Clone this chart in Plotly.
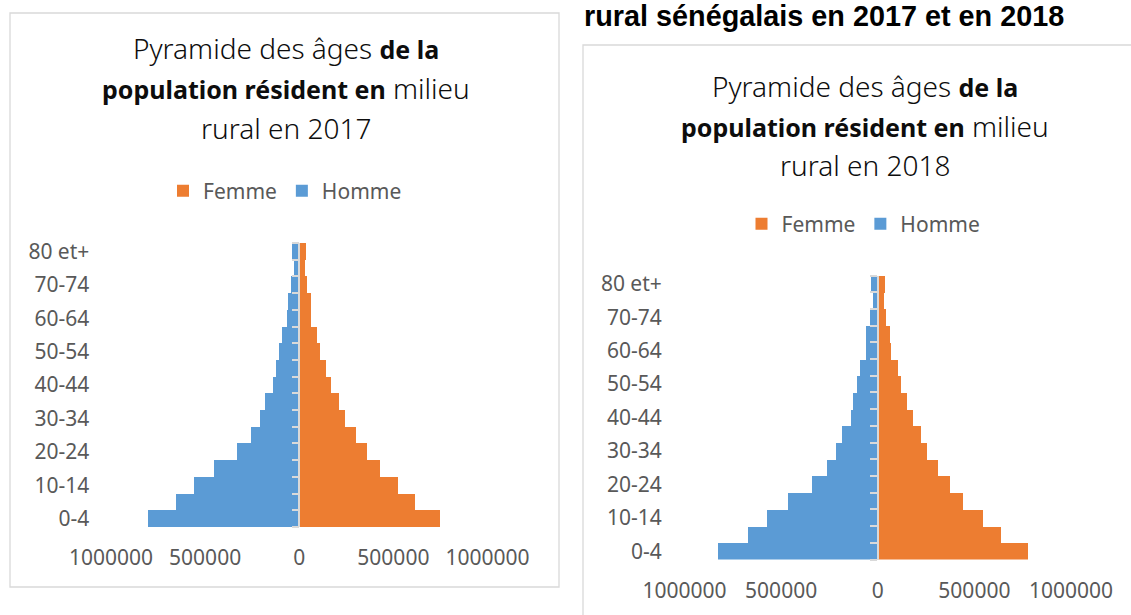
import plotly.graph_objects as go

W, H = 1131, 615

ages = ["0-4", "5-9", "10-14", "15-19", "20-24", "25-29", "30-34", "35-39", "40-44",
        "45-49", "50-54", "55-59", "60-64", "65-69", "70-74", "75-79", "80 et+"]
age_labels = [a if i % 2 == 0 else "" for i, a in enumerate(ages)]

femme_2017 = [750000, 617000, 525000, 427000, 360000, 300000, 245000, 213000, 170000,
              142000, 112000, 96000, 64000, 60000, 39000, 30000, 34000]
homme_2017 = [805000, 656000, 560000, 452000, 332000, 257000, 211000, 183000, 140000,
              126000, 106000, 92000, 66000, 62000, 43000, 28000, 36000]
femme_2018 = [774000, 636000, 541000, 441000, 372000, 307000, 253000, 219000, 178000,
              147000, 116000, 100000, 67000, 62000, 41000, 31000, 36000]
homme_2018 = [829000, 674000, 576000, 466000, 341000, 264000, 217000, 186000, 143000,
              129000, 110000, 93000, 66000, 62000, 41000, 29000, 35000]

x_tickvals = [-1000000, -500000, 0, 500000, 1000000]
x_ticktext = ["1000000", "500000", "0", "500000", "1000000"]

heading = "rural sénégalais en 2017 et en 2018"
B0 = '<b><span style="font-size:25px">'
B1 = '</span></b>'
title_2017 = ["Pyramide des âges " + B0 + "de la" + B1,
              B0 + "population résident en" + B1 + " milieu",
              "rural en 2017"]
title_2018 = ["Pyramide des âges " + B0 + "de la" + B1,
              B0 + "population résident en" + B1 + " milieu",
              "rural en 2018"]

ORANGE = "#ED7D31"
BLUE = "#5B9BD5"
GRID = "#D9D9D9"
TXT = "#595959"
FONT = "Noto Sans"


def px(x):
    return x / W


def py(y):
    return 1 - y / H


fig = go.Figure()

fig.add_trace(go.Bar(y=ages, x=femme_2017, orientation="h", name="Femme",
                     marker=dict(color=ORANGE, line=dict(width=0)),
                     xaxis="x", yaxis="y", legend="legend"))
fig.add_trace(go.Bar(y=ages, x=[-v for v in homme_2017], orientation="h", name="Homme",
                     marker=dict(color=BLUE, line=dict(width=0)),
                     xaxis="x", yaxis="y", legend="legend"))
fig.add_trace(go.Bar(y=ages, x=femme_2018, orientation="h", name="Femme",
                     marker=dict(color=ORANGE, line=dict(width=0)),
                     xaxis="x2", yaxis="y2", legend="legend2"))
fig.add_trace(go.Bar(y=ages, x=[-v for v in homme_2018], orientation="h", name="Homme",
                     marker=dict(color=BLUE, line=dict(width=0)),
                     xaxis="x2", yaxis="y2", legend="legend2"))

xcommon = dict(range=[-1000000, 1000000], tickmode="array", tickvals=x_tickvals,
               ticktext=x_ticktext, showline=False, showgrid=False, zeroline=False,
               ticks="", tickfont=dict(family=FONT, size=21, color=TXT),
               ticklabelstandoff=16, fixedrange=True, automargin=False)
ycommon = dict(type="category", categoryorder="array", categoryarray=ages,
               range=[-0.5, 16.5], tickmode="array", tickvals=ages, ticktext=age_labels,
               tickson="boundaries", ticks="outside", ticklen=7, tickwidth=1.5,
               tickcolor=GRID, showline=True, linecolor=GRID, linewidth=1.5,
               showgrid=False, zeroline=False, anchor="free", side="left",
               tickfont=dict(family=FONT, size=21, color=TXT), fixedrange=True,
               automargin=False)

# left chart plot area
L_x0, L_x1, L_y0, L_y1 = 111, 487.5, 243, 527
# right chart plot area
R_x0, R_x1, R_y0, R_y1 = 684.5, 1071, 275.5, 559.5

fig.update_layout(
    xaxis=dict(domain=[px(L_x0), px(L_x1)], anchor="y", **xcommon),
    yaxis=dict(domain=[py(L_y1), py(L_y0)], position=px((L_x0 + L_x1) / 2),
               ticklabelstandoff=int(round((L_x0 + L_x1) / 2 - L_x0 + 23 - 6)), **ycommon),
    xaxis2=dict(domain=[px(R_x0), px(R_x1)], anchor="y2", **xcommon),
    yaxis2=dict(domain=[py(R_y1), py(R_y0)], position=px((R_x0 + R_x1) / 2),
                ticklabelstandoff=int(round((R_x0 + R_x1) / 2 - R_x0 + 23 - 5)), **ycommon),
)

legcommon = dict(orientation="h", xanchor="center", yanchor="middle",
                 font=dict(family=FONT, size=21, color=TXT), bgcolor="rgba(0,0,0,0)",
                 traceorder="normal")
fig.update_layout(
    template="none",
    width=W, height=H, margin=dict(l=0, r=0, t=0, b=0, pad=0, autoexpand=False),
    paper_bgcolor="white", plot_bgcolor="white",
    barmode="relative", bargap=0,
    font=dict(family=FONT, color=TXT),
    showlegend=True,
    legend=dict(x=px(285), y=py(191), **legcommon),
    legend2=dict(x=px(863.5), y=py(224), **legcommon),
)

shapes = [
    dict(type="rect", xref="paper", yref="paper", x0=px(10), x1=px(559), y0=py(587), y1=py(13),
         line=dict(color=GRID, width=1.3), fillcolor="rgba(0,0,0,0)", layer="below"),
    dict(type="rect", xref="paper", yref="paper", x0=px(583), x1=1.05, y0=-0.05, y1=py(45),
         line=dict(color=GRID, width=1.3), fillcolor="rgba(0,0,0,0)", layer="below"),
]
fig.update_layout(shapes=shapes)

annotations = [
    dict(text="<b>" + heading + "</b>", x=px(584), xanchor="left", y=1, yanchor="top",
         xref="paper", yref="paper", showarrow=False, borderpad=0, borderwidth=0,
         font=dict(family="Liberation Sans", size=28.8, color="#000000")),
]
for lines, cx, ys in [(title_2017, 285.5, [48, 88, 128]), (title_2018, 864.5, [86, 126, 165])]:
    for line, yy in zip(lines, ys):
        annotations.append(dict(text=line, x=px(cx), xanchor="center", y=py(yy), yanchor="middle",
                                xref="paper", yref="paper", showarrow=False,
                                font=dict(family=FONT, size=28, color="#0D0D0D", weight=300)))
fig.update_layout(annotations=annotations)

fig.write_html("out.html", config={"displayModeBar": False},
               post_script="document.body.style.margin='0px';")
